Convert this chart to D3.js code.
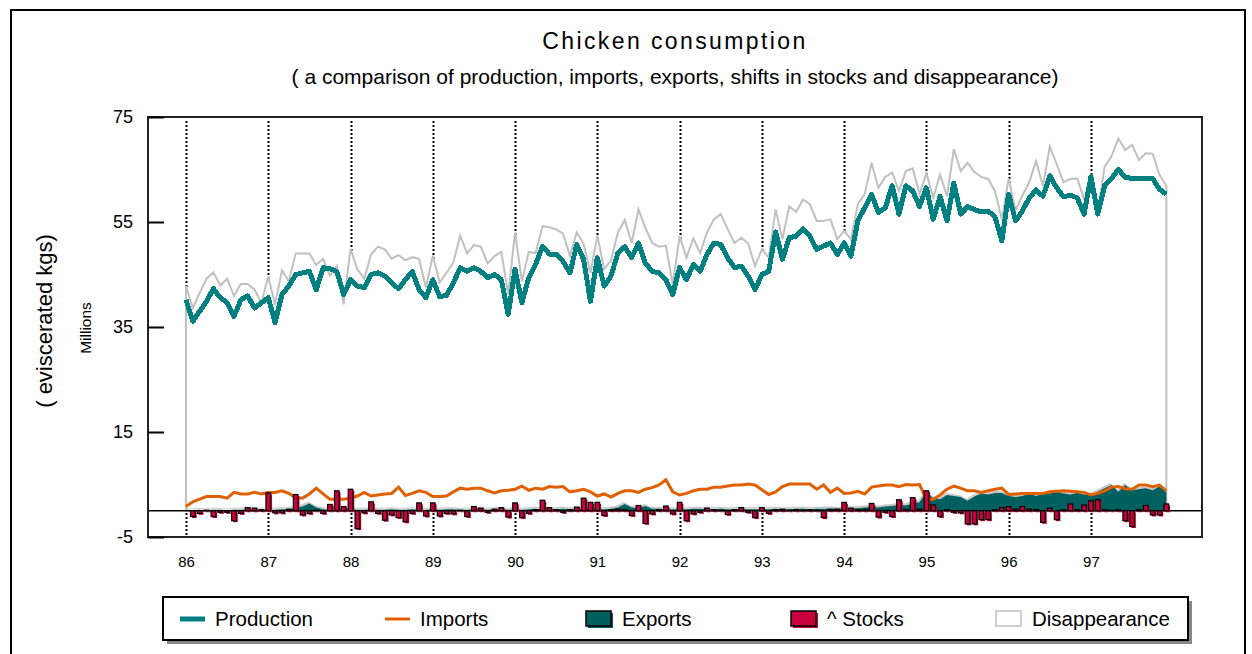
<!DOCTYPE html>
<html>
<head>
<meta charset="utf-8">
<script src="https://cdn.jsdelivr.net/npm/d3@7"></script>
<style>
  body { margin: 0; background: #fff; }
  svg { font-family: "Liberation Sans", Arial, sans-serif; }
</style>
</head>
<body>
<svg id="chart" width="1252" height="654"></svg>
<script>
// monthly data, Jan 86 .. Dec 97 (millions of eviscerated kgs)
const years = ["86","87","88","89","90","91","92","93","94","95","96","97"];

const production = [
  40.2,36.1,38.0,39.9,42.3,40.6,39.6,37.0,40.2,40.9,38.6,39.6,
  40.6,35.8,41.2,42.8,45.0,45.3,45.6,42.1,46.3,46.1,45.6,41.2,
  44.0,42.8,42.5,45.0,45.3,44.7,43.4,42.3,44.0,45.6,42.1,40.6,
  44.0,40.8,41.0,43.4,46.3,45.6,46.3,45.6,44.4,45.0,44.0,37.4,
  46.0,39.6,44.4,46.9,50.4,48.9,48.8,47.5,45.3,50.7,47.9,39.9,
  48.2,42.8,44.7,49.1,50.3,48.2,51.0,47.2,45.6,45.3,44.0,41.2,
  46.3,44.0,46.9,45.6,48.8,51.0,50.7,48.2,46.3,46.6,44.7,42.1,
  45.0,45.6,53.1,47.9,52.0,52.3,53.7,52.3,49.8,50.4,51.0,48.8,
  51.0,48.5,55.2,57.7,60.3,56.8,57.7,61.9,56.5,61.9,60.9,58.0,
  61.5,55.5,59.9,55.2,62.4,56.5,57.9,57.4,56.9,57.1,56.0,51.4,
  60.3,55.2,57.1,59.6,61.1,59.9,63.8,61.5,59.8,60.1,59.6,56.5,
  63.6,56.5,61.9,63.3,65.0,63.5,63.3,63.3,63.3,63.3,61.2,60.3
];

const imports = [
  0.8,1.7,2.2,2.7,2.7,2.7,2.4,3.5,3.2,3.2,3.5,3.2,
  3.5,3.5,3.8,3.3,2.5,2.4,3.2,4.3,3.2,2.2,2.2,2.2,
  2.4,2.8,3.5,2.8,3.0,3.2,3.3,4.5,2.9,3.3,3.8,3.5,
  2.7,2.7,2.8,3.6,4.3,4.1,4.3,4.3,3.8,3.4,3.8,3.9,
  4.1,4.7,3.9,4.3,4.1,4.6,4.5,4.6,3.6,3.8,4.1,3.6,
  2.8,3.2,2.6,3.3,3.8,3.8,3.5,4.1,4.4,4.9,5.9,3.6,
  3.0,3.3,3.8,4.1,4.1,4.5,4.5,4.7,4.9,4.9,5.1,4.9,
  4.0,3.1,3.6,4.6,5.1,5.1,5.1,5.1,4.1,4.9,3.5,4.3,
  3.3,3.4,3.7,3.2,4.5,4.7,4.9,4.9,4.6,5.0,4.9,5.0,
  2.2,2.2,3.0,4.1,4.7,4.3,3.8,3.8,3.5,3.8,4.1,4.3,
  3.1,3.2,3.3,3.3,3.3,3.3,3.6,3.7,3.8,3.7,3.6,3.5,
  3.0,3.3,3.8,4.5,4.6,4.2,4.1,4.9,4.9,4.6,4.9,3.8
];

const exportsKg = [
  0.2,0.1,0.2,0.1,0.2,0.2,0.1,0.2,0.2,0.3,0.2,0.2,
  0.2,0.2,0.3,0.3,0.5,0.8,1.4,0.6,0.3,0.2,0.2,0.3,
  0.3,0.2,0.2,0.3,0.2,0.2,0.3,0.2,0.2,0.3,0.2,0.2,
  0.3,0.2,0.3,0.3,0.2,0.2,0.3,0.3,0.2,0.3,0.3,0.2,
  0.3,0.2,0.3,0.4,0.3,0.3,0.3,0.4,0.3,0.3,0.4,0.3,
  0.3,0.3,0.4,0.6,1.3,0.6,0.5,0.9,0.4,0.4,0.3,0.3,
  0.3,0.3,0.4,0.4,0.3,0.3,0.4,0.3,0.3,0.4,0.3,0.3,
  0.3,0.3,0.4,0.3,0.3,0.4,0.4,0.3,0.4,0.4,0.5,0.4,
  0.4,0.5,0.5,0.6,0.7,0.6,0.8,0.9,1.1,1.0,1.4,1.6,
  3.6,2.4,2.2,3.0,2.8,2.6,1.9,2.7,3.3,3.1,3.4,3.4,
  2.8,2.6,2.8,3.3,2.8,3.2,3.3,3.6,3.3,3.1,3.4,3.1,
  3.0,3.6,4.3,4.9,3.6,4.9,3.9,4.1,4.3,3.9,4.6,3.6
];

const stocks = [
   0.0,-1.1,-0.5, 0.1,-1.1,-0.3,-0.3,-1.9,-0.5, 0.6, 0.5, 0.2,
   3.4,-0.4,-0.4, 0.3, 3.1,-0.8,-0.5, 0.1,-0.5, 1.2, 3.8, 0.8,
   4.1,-3.4,-0.4, 1.7,-0.5,-1.8,-0.8,-1.3,-2.1,-0.5, 1.5,-1.0,
   1.5,-1.0,-0.5,-0.6, 0.1,-1.1, 0.8, 0.5,-0.3, 0.3, 0.6,-1.2,
   1.5,-1.3,-0.5, 0.2, 2.0, 0.6, 0.2,-0.3, 0.2, 0.7, 2.4, 1.6,
   1.6,-0.9, 0.2, 0.3, 0.2,-0.9, 1.0,-2.4,-0.6, 0.2, 0.9,-0.6,
   1.6,-1.9,-0.6,-0.3, 0.5, 0.2, 0.1,-0.7, 0.2, 0.6,-0.3,-1.3,
   0.6,-0.5, 0.2, 0.3, 0.1, 0.2, 0.1, 0.2, 0.1,-1.3, 0.2, 0.3,
   1.6, 0.5, 0.2, 0.2, 1.4,-1.2,-0.3,-1.1, 2.1, 0.2, 2.5, 0.3,
   3.8, 1.1,-1.1, 0.2,-0.3,-0.4,-2.5,-2.5,-1.7,-1.7, 0.2, 0.6,
   0.8, 0.3, 0.8, 0.3, 0.2,-2.2, 0.5,-1.7, 0.2, 1.3, 0.2, 1.1,
   1.9, 2.1, 0.2, 0.1, 0.2,-1.9,-3.0, 0.2, 1.0,-0.8,-0.8, 1.3
];

const disappearance = [
  42.8,38.6,41.5,44.2,45.4,42.9,44.2,40.9,43.2,43.2,42.1,39.6,
  44.6,39.3,45.8,43.7,49.0,49.0,49.0,46.8,48.0,44.8,46.6,39.3,
  49.9,46.0,44.2,48.8,50.3,49.8,48.0,48.7,47.7,48.3,48.0,42.5,
  48.6,43.5,45.3,47.3,52.4,49.0,50.6,50.3,47.1,48.5,49.3,41.2,
  53.0,43.7,49.3,49.1,54.2,54.0,53.6,52.8,48.5,53.0,50.9,45.3,
  52.4,46.0,47.7,53.0,55.4,51.0,57.4,53.9,51.0,50.3,50.5,43.1,
  52.3,48.2,51.9,49.1,53.0,55.5,56.5,53.7,51.0,52.0,50.9,46.6,
  49.8,48.2,57.4,51.7,58.0,56.9,59.3,58.4,55.2,55.2,55.5,51.7,
  53.3,51.7,58.4,60.3,66.3,61.5,63.6,64.4,60.9,64.7,65.2,60.3,
  64.3,59.6,64.0,59.9,68.9,64.7,66.3,64.5,63.6,63.2,60.9,55.5,
  63.3,57.3,60.0,62.6,66.6,61.8,69.4,66.0,62.6,63.2,63.3,59.3,
  63.8,57.0,65.5,67.5,70.9,68.7,69.7,66.8,68.1,68.0,64.0,61.9
];

const yTicks = [-5, 15, 35, 55, 75];

const legendItems = [
  {label: "Production", kind: "line", color: "#008080", w: 5},
  {label: "Imports", kind: "line", color: "#e06000", w: 3},
  {label: "Exports", kind: "box", color: "#005f5f", stroke: "#000"},
  {label: "^ Stocks", kind: "box", color: "#c8003c", stroke: "#000"},
  {label: "Disappearance", kind: "box", color: "#fff", stroke: "#c0c0c0"}
];

const svg = d3.select("#chart");
const pLeft = 148, pRight = 1202, pTop = 117, pBottom = 537;

const x = d3.scaleLinear().domain([-5.54, 148.2]).range([pLeft, pRight]);
const y = d3.scaleLinear().domain([-5, 75]).range([pBottom, pTop]);
const idx = d3.range(production.length);

// outer frame
svg.append("rect").attr("x", 11).attr("y", 10).attr("width", 1234).attr("height", 700)
  .attr("fill", "none").attr("stroke", "#000").attr("stroke-width", 2);

// titles
svg.append("text").attr("x", 675).attr("y", 49).attr("text-anchor", "middle")
  .attr("font-size", 23).attr("letter-spacing", 2.4).text("Chicken consumption");
svg.append("text").attr("x", 675).attr("y", 84).attr("text-anchor", "middle")
  .attr("font-size", 21).text("( a comparison of production, imports, exports, shifts in stocks and disappearance)");

svg.append("text").attr("transform", "translate(52,321) rotate(-90)").attr("text-anchor", "middle")
  .attr("font-size", 22).text("( eviscerated kgs)");
svg.append("text").attr("transform", "translate(91,328) rotate(-90)").attr("text-anchor", "middle")
  .attr("font-size", 15.5).text("Millions");

// year gridlines (dotted)
svg.append("g").selectAll("line").data(years).join("line")
  .attr("x1", (d, i) => Math.round(x(i * 12)) + 0.5).attr("x2", (d, i) => Math.round(x(i * 12)) + 0.5)
  .attr("y1", pTop + 4).attr("y2", pBottom)
  .attr("stroke", "#000").attr("stroke-width", 2).attr("stroke-dasharray", "2,2");

// disappearance: white area with grey outline
const area = d3.area().x(i => x(i)).y0(y(0)).y1(i => y(disappearance[i]));
svg.append("path").datum(idx).attr("d", area)
  .attr("fill", "#fff").attr("stroke", "#c0c0c0").attr("stroke-width", 2);

// exports area (with light shadow)
const expArea = d3.area().x(i => x(i)).y0(y(0)).y1(i => y(exportsKg[i]));
svg.append("path").datum(idx).attr("d", expArea)
  .attr("transform", "translate(-1,-2)").attr("fill", "#c8c8c8");
svg.append("path").datum(idx).attr("d", expArea).attr("fill", "#005f5f");

// imports
svg.append("path").datum(idx)
  .attr("d", d3.line().x(i => x(i)).y(i => y(imports[i])))
  .attr("fill", "none").attr("stroke", "#e06000").attr("stroke-width", 3);

// zero line
svg.append("line").attr("x1", pLeft).attr("x2", pRight).attr("y1", y(0)).attr("y2", y(0))
  .attr("stroke", "#000").attr("stroke-width", 1.5);

// stocks bars
const bw = 4.6;
const gS = svg.append("g");
const nz = idx.filter(i => stocks[i] !== 0);
gS.selectAll("rect.sh").data(nz).join("rect")
  .attr("class", "sh")
  .attr("x", i => x(i) - bw / 2 + 1.5).attr("width", bw)
  .attr("y", i => Math.min(y(stocks[i]), y(0)) + 1.5)
  .attr("height", i => Math.abs(y(stocks[i]) - y(0)))
  .attr("fill", "#c8003c");
gS.selectAll("rect.bar").data(nz).join("rect")
  .attr("class", "bar")
  .attr("x", i => x(i) - bw / 2).attr("width", bw)
  .attr("y", i => Math.min(y(stocks[i]), y(0)))
  .attr("height", i => Math.abs(y(stocks[i]) - y(0)))
  .attr("fill", "#c8003c").attr("stroke", "#000").attr("stroke-width", 1.2);

// production
svg.append("path").datum(idx)
  .attr("d", d3.line().x(i => x(i)).y(i => y(production[i])))
  .attr("fill", "none").attr("stroke", "#008080").attr("stroke-width", 5)
  .attr("stroke-linejoin", "round").attr("shape-rendering", "crispEdges");

// plot frame
svg.append("rect").attr("x", pLeft).attr("y", pTop).attr("width", pRight - pLeft).attr("height", pBottom - pTop)
  .attr("fill", "none").attr("stroke", "#222").attr("stroke-width", 2);

// y axis
const yAxis = svg.append("g").attr("transform", `translate(${pLeft},0)`)
  .call(d3.axisLeft(y).tickValues(yTicks).tickFormat(d => String(d)).tickSize(-16).tickPadding(15));
yAxis.select(".domain").remove();
yAxis.selectAll("line").attr("stroke", "#000").attr("stroke-width", 2);
yAxis.selectAll("text").attr("font-size", 18).attr("font-family", "Liberation Sans, Arial, sans-serif").attr("fill", "#000");

// x axis labels
const xAxis = svg.append("g").attr("transform", `translate(0,${pBottom})`)
  .call(d3.axisBottom(x).tickValues(years.map((d, i) => i * 12)).tickFormat((d, i) => years[i])
    .tickSize(0).tickPadding(19));
xAxis.select(".domain").remove();
xAxis.selectAll("text").attr("font-size", 15).attr("font-family", "Liberation Sans, Arial, sans-serif").attr("fill", "#000");

// legend
const lg = svg.append("g");
lg.append("rect").attr("x", 167).attr("y", 601).attr("width", 1025).attr("height", 43).attr("fill", "#888");
lg.append("rect").attr("x", 163).attr("y", 597).attr("width", 1025).attr("height", 43)
  .attr("fill", "#fff").attr("stroke", "#000").attr("stroke-width", 2);
const lx = [180, 385, 586, 791, 996];
legendItems.forEach((d, i) => {
  const g = lg.append("g").attr("transform", `translate(${lx[i]},619)`);
  if (d.kind === "line") {
    g.append("line").attr("x1", 0).attr("x2", 25).attr("y1", 0).attr("y2", 0)
      .attr("stroke", d.color).attr("stroke-width", d.w);
  } else {
    if (d.label !== "Disappearance")
      g.append("rect").attr("x", 2).attr("y", -6).attr("width", 25).attr("height", 15).attr("fill", d.color);
    g.append("rect").attr("x", 0).attr("y", -8).attr("width", 25).attr("height", 15)
      .attr("fill", d.color).attr("stroke", d.stroke).attr("stroke-width", 1.5);
  }
  g.append("text").attr("x", d.kind === "line" ? 35 : 36).attr("y", 7).attr("font-size", 20.5).text(d.label);
});
</script>
</body>
</html>
